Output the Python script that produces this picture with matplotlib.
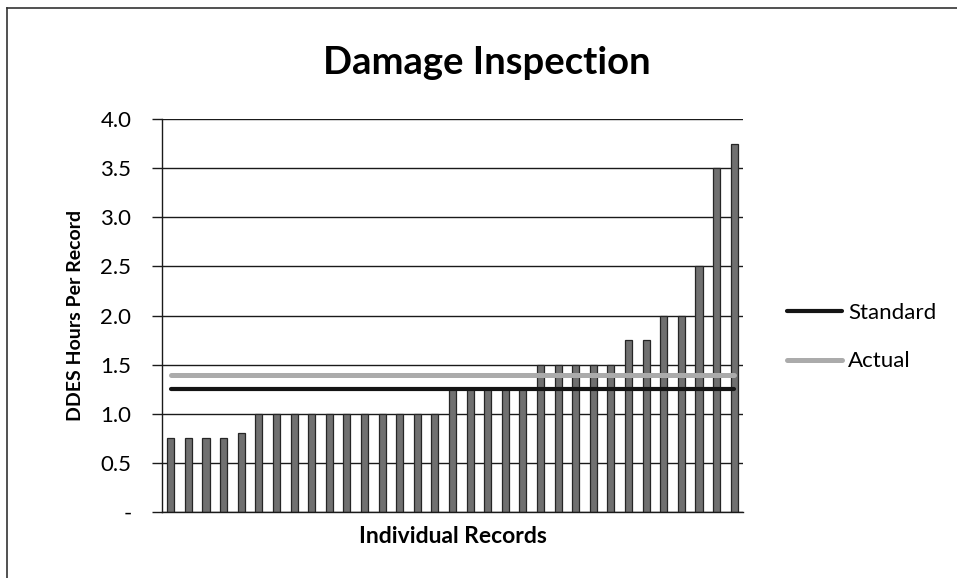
import matplotlib
matplotlib.use("Agg")
import matplotlib.pyplot as plt
from matplotlib.lines import Line2D
import numpy as np

# ---- data ----
hours = [0.75, 0.75, 0.75, 0.75, 0.80,
         1.0, 1.0, 1.0, 1.0, 1.0, 1.0, 1.0, 1.0, 1.0, 1.0, 1.0,
         1.25, 1.25, 1.25, 1.25, 1.25,
         1.5, 1.5, 1.5, 1.5, 1.5,
         1.75, 1.75,
         2.0, 2.0,
         2.5, 3.5, 3.75]
standard_value = 1.25
actual_value = 1.39
y_ticks = [0, 0.5, 1.0, 1.5, 2.0, 2.5, 3.0, 3.5, 4.0]
y_tick_labels = ["-", "0.5", "1.0", "1.5", "2.0", "2.5", "3.0", "3.5", "4.0"]
title = "Damage Inspection"
x_label = "Individual Records"
y_label = "DDES Hours Per Record"
series_names = ["Standard", "Actual"]

FONT = ["Lato", "DejaVu Sans"]
plt.rcParams['font.family'] = FONT

fig = plt.figure(figsize=(9.57, 5.78), dpi=100)
ax = fig.add_axes([162/957, 1 - 512/578, (743 - 162)/957, (512 - 119)/578])

x = np.arange(len(hours))
ax.bar(x, hours, width=0.4, color="#707070", edgecolor="#262626", linewidth=0.9, zorder=2)

ax.plot(x, [standard_value] * len(x), color="#141414", linewidth=3.0,
        solid_capstyle="round", zorder=4, label=series_names[0])
ax.plot(x, [actual_value] * len(x), color="#ababab", linewidth=3.6,
        solid_capstyle="round", zorder=3, label=series_names[1])

ax.set_xlim(-0.5, len(hours) - 0.5)
ax.set_ylim(0, 4.0)
ax.set_yticks(y_ticks)
ax.set_yticklabels(y_tick_labels, fontsize=16)
ax.set_xticks([])
ax.yaxis.grid(True, color="#1a1a1a", linewidth=1.0, zorder=0)
ax.set_axisbelow(True)
ax.tick_params(axis="y", direction="out", length=7, width=1.0, color="#1a1a1a", pad=15)

for s in ["top", "right"]:
    ax.spines[s].set_visible(False)
ax.spines["left"].set_color("#1a1a1a")
ax.spines["bottom"].set_color("#1a1a1a")
ax.spines["left"].set_linewidth(1.0)
ax.spines["bottom"].set_linewidth(1.0)

ax.set_xlabel(x_label, fontsize=16.5, fontweight="bold", labelpad=10)
ax.set_ylabel(y_label, fontsize=14, fontweight="bold", labelpad=12)

fig.text(487/957, 1 - 63/578, title, fontsize=27.5, fontweight="bold",
         ha="center", va="center")

leg = ax.legend(loc="center left", bbox_to_anchor=(778/957, 1 - 337/578),
                bbox_transform=fig.transFigure, frameon=False, fontsize=16,
                handlelength=2.5, handletextpad=0.25, labelspacing=1.3,
                borderaxespad=0)

# chart border (top and left visible in reference)
fig.add_artist(Line2D([7/957, 7/957], [0, 1 - 8/578], transform=fig.transFigure,
                      color="#333333", linewidth=1.2))
fig.add_artist(Line2D([7/957, 1], [1 - 8/578, 1 - 8/578], transform=fig.transFigure,
                      color="#333333", linewidth=1.2))

fig.savefig("out.png", dpi=100)
